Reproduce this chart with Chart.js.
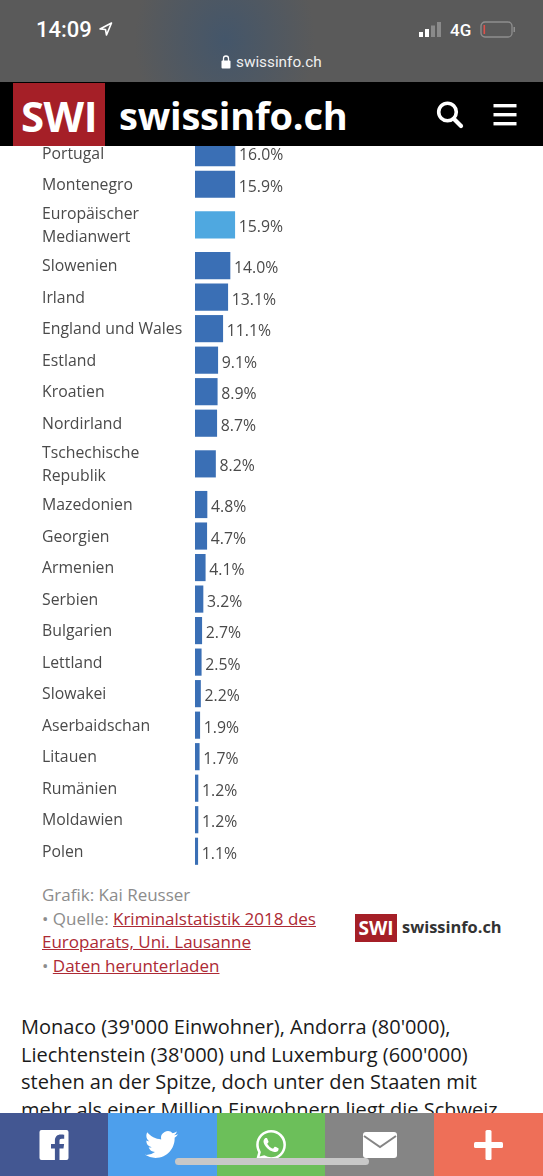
<!DOCTYPE html>
<html lang="de">
<head>
<meta charset="utf-8">
<title>swissinfo.ch</title>
<script src="https://cdn.jsdelivr.net/npm/chart.js@4"></script>
<style>
html, body { margin: 0; padding: 0; background: #fff; }
body { position: relative; width: 543px; height: 1176px; overflow: hidden; font-family: "Open Sans", sans-serif; }
div, span { position: absolute; white-space: nowrap; }
#status { left: 0; top: 0; width: 543px; height: 82px; background: radial-gradient(ellipse 90px 110px at 225px 40px, #44566a, #5a5a5a); color: #fff; }
#head { left: 0; top: 82px; width: 543px; height: 64px; background: #000; z-index: 3; }
#red { left: 13px; top: 1px; width: 92px; height: 63px; background: #a51f27; color: #fff; font: 700 42px/66px "Open Sans", sans-serif; text-align: center; letter-spacing: -0.5px; }
#brand { left: 119px; top: 0; color: #fff; font: 700 38px/66px "Open Sans", sans-serif; letter-spacing: -0.2px; }
#chart { position: absolute; left: 0; top: 137px; z-index: 1; }
#credits { left: 42px; top: 883px; font-size: 17px; line-height: 23.7px; color: #8c8c8c; }
#credits a { color: #ad2a35; text-decoration: underline; }
#logo2 { left: 355px; top: 914px; width: 42px; height: 28px; background: #a51f27; color: #fff; font: 700 19px/28px "Open Sans", sans-serif; text-align: center; }
#brand2 { left: 402px; top: 912px; color: #333; font: 700 16.4px/30px "Open Sans", sans-serif; }
#body { left: 21px; top: 1013px; font-size: 20px; line-height: 27.7px; color: #1a1a1a; }
#share { left: 0; top: 1113px; width: 543px; height: 63px; z-index: 3; }
.btn { top: 0; height: 63px; }
.btn svg { position: absolute; }
#homebar { left: 175px; top: 1158px; width: 194px; height: 7px; border-radius: 4px; background: #c8c8c8; z-index: 4; }
</style>
</head>
<body>
<div id="status">
  <div style="left:36px;top:14px;font:500 22px/32px Roboto,sans-serif;">14:09</div>
  <svg style="position:absolute;left:98px;top:21px" width="15" height="16" viewBox="0 0 15 16"><path d="M13.5 2 L2 8 L7.5 8.5 L8.5 14 Z" fill="none" stroke="#fff" stroke-width="1.6" stroke-linejoin="round"/></svg>
  <svg style="position:absolute;left:419px;top:22px" width="24" height="16"><rect x="0" y="10" width="4" height="5" fill="#fff"/><rect x="6" y="7" width="4" height="8" fill="#fff"/><rect x="12" y="3.5" width="4" height="11.5" fill="#8a8a8a"/><rect x="18" y="0" width="4" height="15" fill="#8a8a8a"/></svg>
  <div style="left:450px;top:15px;font:500 17px/30px Roboto,sans-serif;">4G</div>
  <svg style="position:absolute;left:480px;top:21px" width="36" height="18"><rect x="1" y="1" width="31" height="15" rx="4" fill="none" stroke="#8f8f8f" stroke-width="1.3"/><rect x="3.5" y="4" width="1.6" height="9" fill="#e0504a"/><rect x="33.5" y="6" width="1.5" height="5" fill="#8f8f8f"/></svg>
  <svg style="position:absolute;left:221px;top:55px" width="10" height="14"><rect x="0.5" y="5.5" width="9" height="8" rx="1" fill="#fff"/><path d="M2.5 6 V3.5 a2.5 2.5 0 0 1 5 0 V6" fill="none" stroke="#fff" stroke-width="1.3"/></svg>
  <div style="left:236px;top:51px;font:400 15.3px/22px Roboto,sans-serif;color:#f0f0f0;">swissinfo.ch</div>
</div>

<div id="head">
  <div id="red">SWI</div>
  <div id="brand">swissinfo.ch</div>
  <svg style="position:absolute;left:435px;top:18px" width="30" height="30" viewBox="0 0 30 30"><circle cx="12.5" cy="12" r="8.8" fill="none" stroke="#fff" stroke-width="3.6"/><path d="M19 19 L26 26" stroke="#fff" stroke-width="4.2" stroke-linecap="round"/></svg>
  <svg style="position:absolute;left:493px;top:21px" width="24" height="24"><rect x="0.5" y="1" width="23" height="3.4" fill="#fff"/><rect x="0.5" y="10" width="23" height="3.4" fill="#fff"/><rect x="0.5" y="19" width="23" height="3.4" fill="#fff"/></svg>
</div>

<canvas id="chart" width="543" height="730" style="width:543px;height:730px"></canvas>

<div id="credits">Grafik: Kai Reusser<br>• Quelle: <a href="#">Kriminalstatistik 2018 des</a><br><a href="#">Europarats, Uni. Lausanne</a><br>• <a href="#">Daten herunterladen</a></div>
<div id="logo2">SWI</div>
<div id="brand2">swissinfo.ch</div>

<div id="body">Monaco (39'000 Einwohner), Andorra (80'000),<br>Liechtenstein (38'000) und Luxemburg (600'000)<br>stehen an der Spitze, doch unter den Staaten mit<br>mehr als einer Million Einwohnern liegt die Schweiz</div>

<div id="share">
  <div class="btn" style="left:0;width:108px;background:#435792;">
    <svg style="left:39px;top:17px" width="30" height="30" viewBox="0 0 29 30"><path fill="#fff" d="M2 0 H27 a2 2 0 0 1 2 2 V28 a2 2 0 0 1 -2 2 H20 V18.5 H24 L24.6 14 H20 V11 c0-1.4.5-2.2 2.3-2.2 H24.7 V4.7 c-.5-.1-1.9-.2-3.4-.2 -3.5 0-5.9 2.1-5.9 6 V14 H11.5 V18.5 H15.4 V30 H2 a2 2 0 0 1 -2 -2 V2 a2 2 0 0 1 2 -2 Z"/></svg>
  </div>
  <div class="btn" style="left:108px;width:109px;background:#4d9fec;">
    <svg style="left:37px;top:15px" width="33" height="33" viewBox="0 0 24 24"><path fill="#fff" d="M23.953 4.57a10 10 0 01-2.825.775 4.958 4.958 0 002.163-2.723c-.951.555-2.005.959-3.127 1.184a4.92 4.92 0 00-8.384 4.482C7.69 8.095 4.067 6.13 1.64 3.162a4.822 4.822 0 00-.666 2.475c0 1.71.87 3.213 2.188 4.096a4.904 4.904 0 01-2.228-.616v.06a4.923 4.923 0 003.946 4.827 4.996 4.996 0 01-2.212.085 4.936 4.936 0 004.604 3.417 9.867 9.867 0 01-6.102 2.105c-.39 0-.779-.023-1.17-.067a13.995 13.995 0 007.557 2.209c9.053 0 13.998-7.496 13.998-13.985 0-.21 0-.42-.015-.63A9.935 9.935 0 0024 4.59z"/></svg>
  </div>
  <div class="btn" style="left:217px;width:108px;background:#6cbf5a;">
    <svg style="left:39px;top:17px" width="30" height="30" viewBox="0 0 24 24"><path fill="#fff" d="M17.472 14.382c-.297-.149-1.758-.867-2.03-.967-.273-.099-.471-.148-.67.15-.197.297-.767.966-.94 1.164-.173.199-.347.223-.644.075-.297-.15-1.255-.463-2.39-1.475-.883-.788-1.48-1.761-1.653-2.059-.173-.297-.018-.458.13-.606.134-.133.298-.347.446-.52.149-.174.198-.298.298-.497.099-.198.05-.371-.025-.52-.075-.149-.669-1.612-.916-2.207-.242-.579-.487-.5-.669-.51-.173-.008-.371-.01-.57-.01-.198 0-.52.074-.792.372-.272.297-1.04 1.016-1.04 2.479 0 1.462 1.065 2.875 1.213 3.074.149.198 2.096 3.2 5.077 4.487.709.306 1.262.489 1.694.625.712.227 1.36.195 1.871.118.571-.085 1.758-.719 2.006-1.413.248-.694.248-1.289.173-1.413-.074-.124-.272-.198-.57-.347m-5.421 7.403h-.004a9.87 9.87 0 01-5.031-1.378l-.361-.214-3.741.982.998-3.648-.235-.374a9.86 9.86 0 01-1.51-5.26c.001-5.45 4.436-9.884 9.888-9.884 2.64 0 5.122 1.03 6.988 2.898a9.825 9.825 0 012.893 6.994c-.003 5.45-4.437 9.884-9.885 9.884m8.413-18.297A11.815 11.815 0 0012.05 0C5.495 0 .16 5.335.157 11.892c0 2.096.547 4.142 1.588 5.945L.057 24l6.305-1.654a11.882 11.882 0 005.683 1.448h.005c6.554 0 11.89-5.335 11.893-11.893a11.821 11.821 0 00-3.48-8.413z"/></svg>
  </div>
  <div class="btn" style="left:325px;width:109px;background:#858585;">
    <svg style="left:38px;top:19px" width="34" height="26" viewBox="0 0 34 26"><rect width="34" height="26" rx="3" fill="#fff"/><path d="M1 4 L17 15 L33 4" fill="none" stroke="#858585" stroke-width="2"/></svg>
  </div>
  <div class="btn" style="left:434px;width:109px;background:#ee6f58;">
    <svg style="left:40px;top:17px" width="30" height="30"><rect x="0" y="12" width="29" height="6" rx="1.5" fill="#fff"/><rect x="11.5" y="0" width="6" height="30" rx="1.5" fill="#fff"/></svg>
  </div>
</div>
<div id="homebar"></div>

<script>
const categories = [
    'Portugal', 'Montenegro', ['Europäischer', 'Medianwert'], 'Slowenien', 'Irland',
    'England und Wales', 'Estland', 'Kroatien', 'Nordirland', ['Tschechische', 'Republik'],
    'Mazedonien', 'Georgien', 'Armenien', 'Serbien', 'Bulgarien', 'Lettland', 'Slowakei',
    'Aserbaidschan', 'Litauen', 'Rumänien', 'Moldawien', 'Polen'
];
const values = [16.0, 15.9, 15.9, 14.0, 13.1, 11.1, 9.1, 8.9, 8.7, 8.2, 4.8, 4.7, 4.1, 3.2, 2.7, 2.5, 2.2, 1.9, 1.7, 1.2, 1.2, 1.1];
const medianLabel = 'Europäischer';

const barColor = '#3a6fb5';
const medianColor = '#4fa8e0';
const textColor = '#4a4a4a';
const fontFamily = '"Open Sans", sans-serif';

// two line labels get a taller row, so the rows are not evenly spaced
const rowSize = categories.map(c => Array.isArray(c) ? 1.58 : 1);
let total = 0;
const rowCenter = rowSize.map(s => {
    const center = total + s / 2;
    total += s;
    return center;
});

const points = values.map((v, i) => ({ x: v, y: rowCenter[i] }));

const valueLabels = {
    id: 'valueLabels',
    afterDatasetsDraw(chart) {
        const c = chart.ctx;
        const meta = chart.getDatasetMeta(0);
        c.save();
        c.fillStyle = textColor;
        c.font = '15.8px ' + fontFamily;
        c.textAlign = 'left';
        c.textBaseline = 'middle';
        meta.data.forEach((bar, i) => {
            c.fillText(values[i].toFixed(1) + '%', bar.x + 4, bar.y + 3);
        });
        c.restore();
    }
};

new Chart(document.getElementById('chart'), {
    type: 'bar',
    data: {
        datasets: [{
            data: points,
            backgroundColor: categories.map(c => c[0] === medianLabel ? medianColor : barColor),
            barThickness: 26.5
        }]
    },
    options: {
        indexAxis: 'y',
        responsive: false,
        animation: false,
        layout: { padding: { left: 42, right: 98, top: 0, bottom: 0 } },
        plugins: { legend: { display: false }, tooltip: { enabled: false } },
        scales: {
            x: { type: 'linear', min: 0, max: 100, display: false },
            y: {
                type: 'linear',
                reverse: true,
                min: 0,
                max: total,
                offset: false,
                grid: { display: false },
                border: { display: false },
                afterFit(scale) {
                    scale.width = 153;
                    // labels may run past the plot, the header covers them anyway
                    scale.paddingTop = 0;
                    scale.paddingBottom = 0;
                },
                // labels sit a little lower than the middle of their bar
                afterBuildTicks(scale) { scale.ticks = rowCenter.map(v => ({ value: v + 0.04 })); },
                ticks: {
                    autoSkip: false,
                    crossAlign: 'far',
                    color: textColor,
                    font: { family: fontFamily, size: 15.8, lineHeight: 23 / 15.8 },
                    callback(value, index) { return categories[index]; }
                }
            }
        }
    },
    plugins: [valueLabels]
});
</script>
</body>
</html>
